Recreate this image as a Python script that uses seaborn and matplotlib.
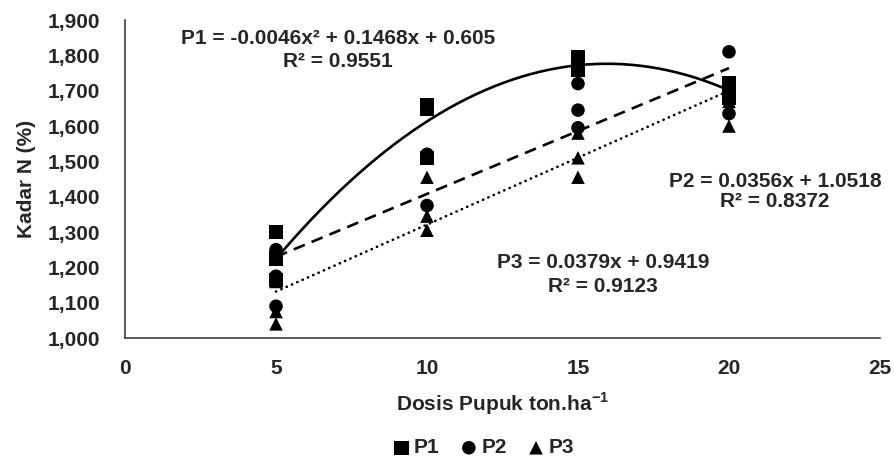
import numpy as np
import pandas as pd
import matplotlib
matplotlib.use("Agg")
import matplotlib.pyplot as plt
import seaborn as sns
from matplotlib.ticker import FuncFormatter, MultipleLocator

# Data pengamatan
dosis = [5, 5, 5, 10, 10, 10, 15, 15, 15, 20, 20, 20]
kadar_p1 = [1.300, 1.225, 1.165, 1.660, 1.648, 1.510, 1.795, 1.768, 1.760, 1.720, 1.700, 1.680]
kadar_p2 = [1.250, 1.175, 1.090, 1.520, 1.510, 1.375, 1.720, 1.645, 1.595, 1.810, 1.700, 1.635]
kadar_p3 = [1.160, 1.075, 1.040, 1.455, 1.345, 1.305, 1.580, 1.510, 1.455, 1.700, 1.670, 1.600]

# Koefisien garis tren (sesuai persamaan pada grafik)
koef_p1 = [-0.0046, 0.1468, 0.605]
koef_p2 = [0.0356, 1.0518]
koef_p3 = [0.0379, 0.9419]
label_persamaan = {
    "P1": ("P1 = -0.0046x\u00b2 + 0.1468x + 0.605", "R\u00b2 = 0.9551"),
    "P2": ("P2 = 0.0356x + 1.0518", "R\u00b2 = 0.8372"),
    "P3": ("P3 = 0.0379x + 0.9419", "R\u00b2 = 0.9123"),
}

sns.set_theme(style="white")
plt.rcParams["font.family"] = ["Liberation Sans", "DejaVu Sans"]
plt.rcParams["font.weight"] = "bold"
plt.rcParams["mathtext.fontset"] = "custom"
plt.rcParams["mathtext.rm"] = "Liberation Sans:bold"
plt.rcParams["mathtext.bf"] = "Liberation Sans:bold"

df = pd.DataFrame({
    "dosis": dosis * 3,
    "kadar": kadar_p1 + kadar_p2 + kadar_p3,
    "perlakuan": ["P1"] * len(dosis) + ["P2"] * len(dosis) + ["P3"] * len(dosis),
})

fig = plt.figure(figsize=(8.95, 4.59), dpi=100)
ax = fig.add_axes([0.1397, 0.2636, 0.8435, 0.6928])

# Garis tren
x_tren = np.linspace(5, 20, 200)
sns.lineplot(x=x_tren, y=np.polyval(koef_p1, x_tren), ax=ax, color="black", linewidth=1.9)
sns.lineplot(x=x_tren, y=np.polyval(koef_p2, x_tren), ax=ax, color="black", linewidth=1.9,
             dashes=False, linestyle=(0, (4.5, 2.8)))
sns.lineplot(x=x_tren, y=np.polyval(koef_p3, x_tren), ax=ax, color="black", linewidth=1.9,
             linestyle=(0, (0.1, 2.1)), dash_capstyle="round")

# Titik data
penanda = {"P1": ("s", 105), "P2": ("o", 95), "P3": ("^", 95)}
for nama, (mk, ukuran) in penanda.items():
    sns.scatterplot(data=df[df["perlakuan"] == nama], x="dosis", y="kadar", ax=ax,
                    marker=mk, s=ukuran, color="black", edgecolor="none", label=nama, zorder=3)

# Persamaan regresi
posisi_teks = {"P1": (7.05, 1.849, 1.783), "P2": (21.52, 1.444, 1.385), "P3": (15.83, 1.214, 1.145)}
for nama, (xt, y1, y2) in posisi_teks.items():
    ax.text(xt, y1, label_persamaan[nama][0], ha="center", va="center", fontsize=15, fontweight="bold")
    ax.text(xt, y2, label_persamaan[nama][1], ha="center", va="center", fontsize=15, fontweight="bold")

ax.set_xlim(0, 25)
ax.set_ylim(1.0, 1.9)
ax.xaxis.set_major_locator(MultipleLocator(5))
ax.yaxis.set_major_locator(MultipleLocator(0.1))
ax.yaxis.set_major_formatter(FuncFormatter(lambda v, p: f"{v:.3f}".replace(".", ",")))
ax.tick_params(axis="both", length=0, labelsize=15)
ax.tick_params(axis="y", pad=18)
ax.tick_params(axis="x", pad=15)
for t in ax.get_xticklabels() + ax.get_yticklabels():
    t.set_fontweight("bold")

ax.set_xlabel("Dosis Pupuk ton.ha$^{\\mathbf{-1}}$", fontsize=15, fontweight="bold", labelpad=9)
ax.set_ylabel("Kadar N (%)", fontsize=15, fontweight="bold", labelpad=8)

sns.despine(ax=ax)
for s in ["left", "bottom"]:
    ax.spines[s].set_color("#404040")
    ax.spines[s].set_linewidth(1.2)

ax.legend(loc="center", bbox_to_anchor=(0.475, -0.345), ncol=3, frameon=False,
          handletextpad=0.2, columnspacing=1.0, handlelength=0.8,
          prop={"weight": "bold", "size": 15})

fig.savefig("out.png", dpi=100)
